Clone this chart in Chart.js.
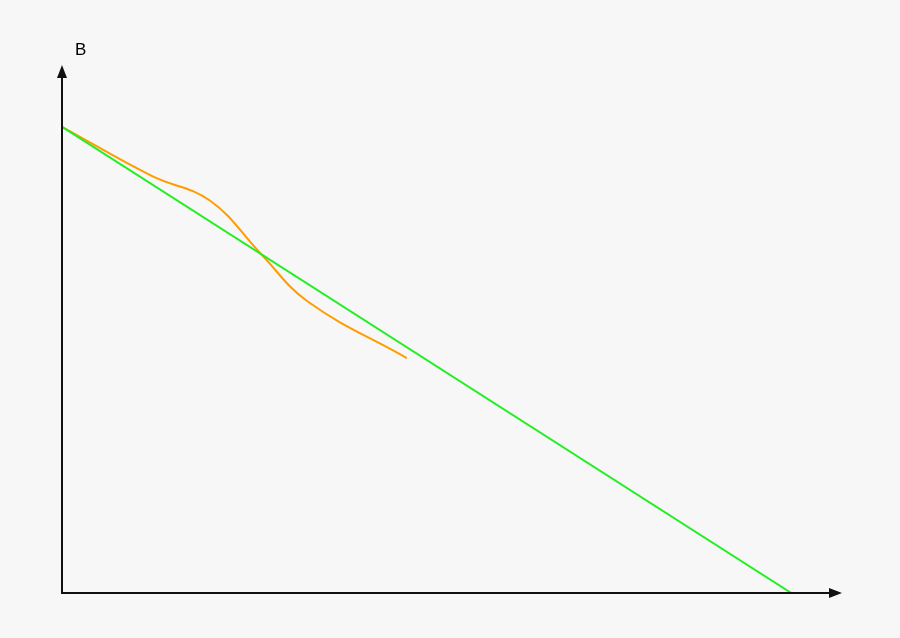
<!DOCTYPE html>
<html>
<head>
<meta charset="utf-8">
<script src="https://cdn.jsdelivr.net/npm/chart.js@4.4.1/dist/chart.umd.min.js"></script>
<style>
  html, body { margin: 0; padding: 0; background: #f7f7f7; }
  #wrap { width: 900px; height: 638px; }
</style>
</head>
<body>
<div id="wrap"><canvas id="diagram"></canvas></div>
<script>
// axis ranges (arbitrary units)
const xMax = 100;
const yMax = 100;
const yAxisLabel = 'B';

// straight green line
const greenX = [0, 93.5];
const greenY = [88.3, 0];

// orange S-curve
const orangeX = [0, 11.5, 19.0, 25.4, 31.5, 44.2];
const orangeY = [88.3, 79.0, 74.3, 64.4, 55.2, 44.5];

const toPoints = (xs, ys) => xs.map((x, i) => ({ x: x, y: ys[i] }));

// draws the two arrowed axes and the "B" label
const arrowAxes = {
  id: 'arrowAxes',
  afterDatasetsDraw(chart) {
    const ctx = chart.ctx;
    const a = chart.chartArea;
    ctx.save();
    ctx.strokeStyle = '#111';
    ctx.fillStyle = '#111';
    ctx.lineWidth = 2;
    ctx.beginPath();
    ctx.moveTo(a.left, a.top + 12);
    ctx.lineTo(a.left, a.bottom);
    ctx.lineTo(a.right - 12, a.bottom);
    ctx.stroke();
    // y arrow head
    ctx.beginPath();
    ctx.moveTo(a.left, a.top);
    ctx.lineTo(a.left - 5, a.top + 13);
    ctx.lineTo(a.left + 5, a.top + 13);
    ctx.closePath();
    ctx.fill();
    // x arrow head
    ctx.beginPath();
    ctx.moveTo(a.right, a.bottom);
    ctx.lineTo(a.right - 13, a.bottom - 5);
    ctx.lineTo(a.right - 13, a.bottom + 5);
    ctx.closePath();
    ctx.fill();
    // label
    ctx.fillStyle = '#000';
    ctx.font = '17px "Liberation Sans", Arial, sans-serif';
    ctx.textBaseline = 'alphabetic';
    ctx.fillText(yAxisLabel, a.left + 13, a.top - 10);
    ctx.restore();
  }
};

const bgPlugin = {
  id: 'bg',
  beforeDraw(chart) {
    const ctx = chart.ctx;
    ctx.save();
    ctx.fillStyle = '#f7f7f7';
    ctx.fillRect(0, 0, chart.width, chart.height);
    ctx.restore();
  }
};

const ctx = document.getElementById('diagram').getContext('2d');
const diagram = new Chart(ctx, {
  type: 'line',
  data: {
    datasets: [
      {
        label: 'green',
        data: toPoints(greenX, greenY),
        borderColor: '#22ee22',
        borderWidth: 2,
        pointRadius: 0,
        tension: 0
      },
      {
        label: 'orange',
        data: toPoints(orangeX, orangeY),
        borderColor: '#ff9c00',
        borderWidth: 2,
        pointRadius: 0,
        tension: 0.4
      }
    ]
  },
  options: {
    responsive: true,
    maintainAspectRatio: false,
    animation: false,
    layout: {
      padding: { left: 62, right: 58, top: 65, bottom: 45 }
    },
    scales: {
      x: { type: 'linear', min: 0, max: xMax, display: false },
      y: { type: 'linear', min: 0, max: yMax, display: false }
    },
    plugins: {
      legend: { display: false },
      tooltip: { enabled: false }
    }
  },
  plugins: [bgPlugin, arrowAxes]
});
</script>
</body>
</html>
